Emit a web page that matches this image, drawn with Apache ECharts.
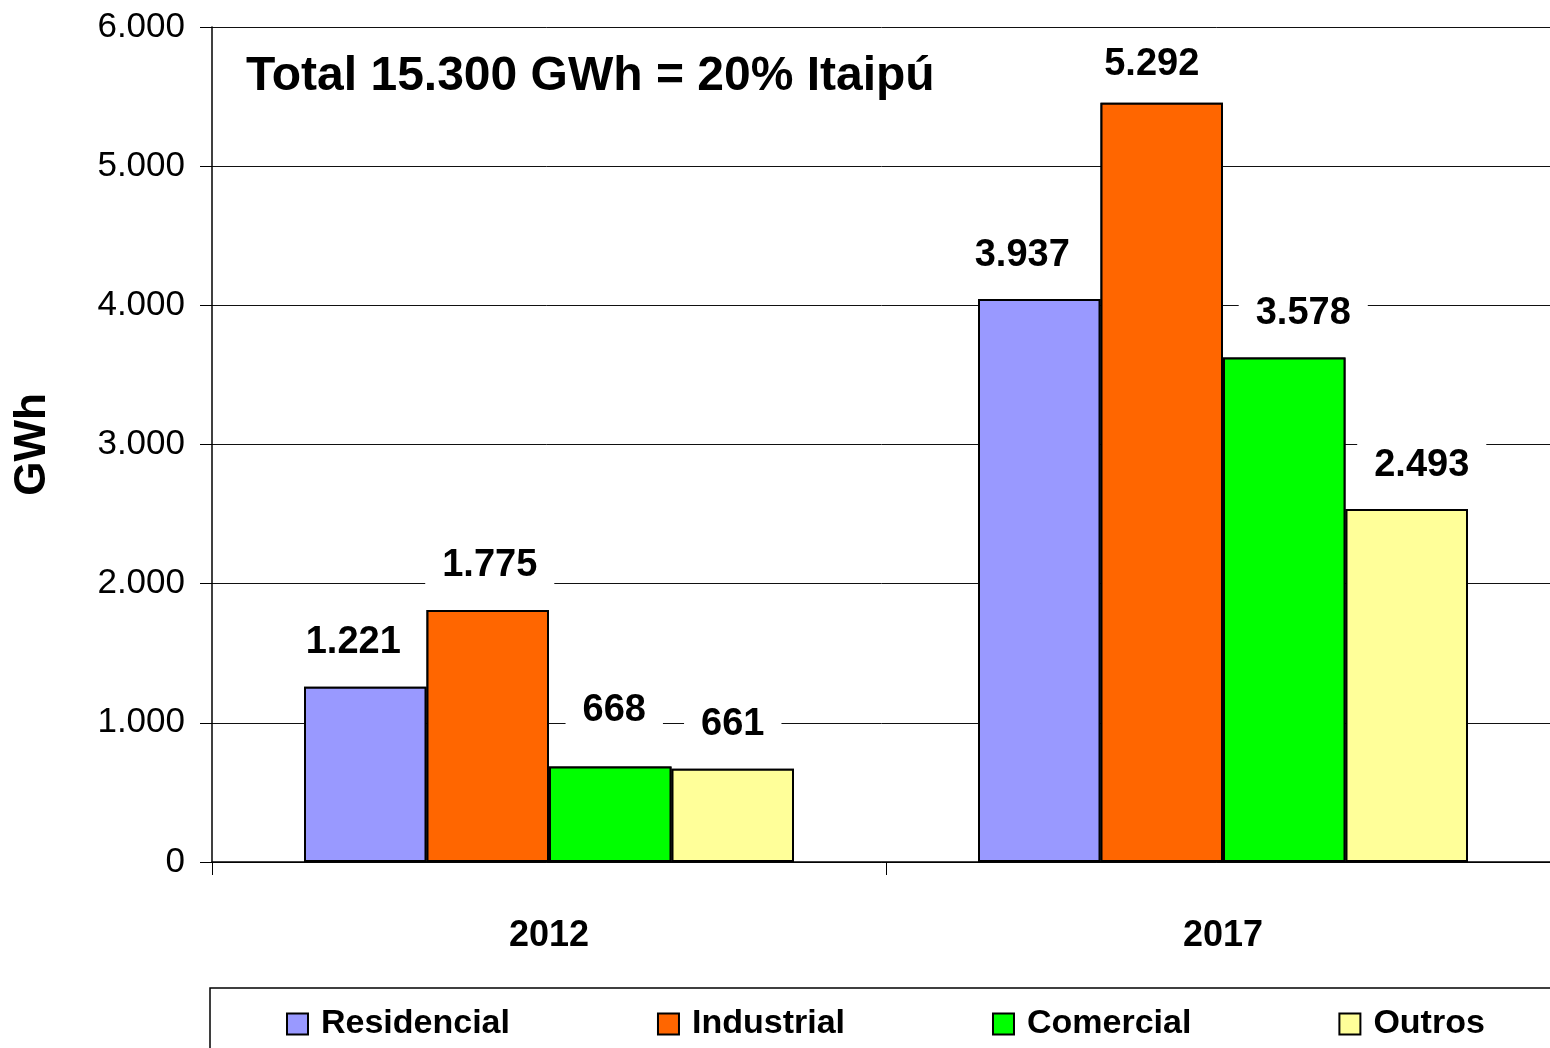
<!DOCTYPE html>
<html>
<head>
  <meta charset="utf-8">
  <title>Consumo GWh 2012 / 2017</title>
  <script src="https://cdn.jsdelivr.net/npm/echarts@6/dist/echarts.min.js"></script>
  <style>
    html, body { margin: 0; padding: 0; background: #fff; }
    #main { width: 1550px; height: 1048px; }
  </style>
</head>
<body>
  <div id="main"></div>
  <script>
  // anos
  var categories = ['2012', '2017'];
  var seriesNames = ['Residencial', 'Industrial', 'Comercial', 'Outros'];
  var seriesColors = ['#9999ff', '#ff6600', '#00ff00', '#ffff99'];

  // altura das barras (GWh)
  var residencial = [1260, 4045];
  var industrial = [1811, 5455];
  var comercial = [686, 3625];
  var outros = [670, 2536];

  // rótulos impressos sobre as barras
  var residencialLabels = ['1.221', '3.937'];
  var industrialLabels = ['1.775', '5.292'];
  var comercialLabels = ['668', '3.578'];
  var outrosLabels = ['661', '2.493'];

  var titleText = 'Total 15.300 GWh = 20% Itaipú';
  var axisName = 'GWh';

  var FONT = '"Liberation Sans", Arial, sans-serif';

  function fmtThousands(v) {
    return String(v).replace(/\B(?=(\d{3})+(?!\d))/g, '.');
  }

  var values = [residencial, industrial, comercial, outros];
  var labels = [residencialLabels, industrialLabels, comercialLabels, outrosLabels];

  // ajuste fino da posição de alguns rótulos (série, ano)
  function labelDistance(i, j) {
    if (i === 2 && j === 0) return 31; // 668
    if (i === 1 && j === 1) return 13; // 5.292
    return 19;
  }
  function labelShift(i, j) {
    var dx = [[-12, -17], [2, -10], [4, 19], [0, 15]];
    return dx[i][j];
  }

  var barCommon = { type: 'bar', barGap: '0%', barCategoryGap: '27.3%' };

  // barras com rótulo (fundo branco corta as linhas de grade)
  var series = seriesNames.map(function (name, i) {
    return Object.assign({}, barCommon, {
      name: name,
      z: 2,
      itemStyle: { color: seriesColors[i], borderColor: '#000', borderWidth: 2 },
      label: {
        show: true,
        position: 'top',
        fontFamily: FONT,
        fontWeight: 'bold',
        fontSize: 38,
        color: '#000',
        backgroundColor: '#fff',
        padding: [6, 17],
        formatter: function (p) { return labels[i][p.dataIndex]; }
      },
      emphasis: { disabled: true },
      data: values[i].map(function (v, j) {
        return { value: v, label: { distance: labelDistance(i, j), offset: [labelShift(i, j), 0] } };
      })
    });
  });

  // mesmas barras por cima, para que o fundo dos rótulos não cubra as barras vizinhas
  seriesNames.forEach(function (name, i) {
    series.push(Object.assign({}, barCommon, {
      name: name + ' ',
      xAxisIndex: 1,
      z: 5,
      silent: true,
      itemStyle: { color: seriesColors[i], borderColor: '#000', borderWidth: 2 },
      emphasis: { disabled: true },
      data: values[i]
    }));
  });

  var chart = echarts.init(document.getElementById('main'));
  chart.setOption({
    animation: false,
    backgroundColor: '#fff',
    grid: { left: 212, right: -10, top: 27, bottom: 186, outerBoundsMode: 'none', containLabel: false },
    legend: {
      left: 286,
      top: 1007,
      padding: 0,
      itemWidth: 21,
      itemHeight: 21,
      itemGap: 147,
      icon: 'rect',
      itemStyle: { borderColor: '#000', borderWidth: 2 },
      textStyle: { fontFamily: FONT, fontWeight: 'bold', fontSize: 34, color: '#000', padding: [0, 0, 0, 8] },
      selectedMode: false,
      data: seriesNames
    },
    xAxis: [
      {
        type: 'category',
        data: categories,
        axisLine: { lineStyle: { color: '#000', width: 1.5 } },
        axisTick: { show: true, length: 13, lineStyle: { color: '#000' } },
        axisLabel: { margin: 56, fontFamily: FONT, fontWeight: 'bold', fontSize: 36, color: '#000' }
      },
      {
        type: 'category',
        data: categories,
        show: false
      }
    ],
    yAxis: {
      type: 'value',
      min: 0,
      max: 6000,
      interval: 1000,
      name: axisName,
      nameLocation: 'middle',
      nameGap: 157,
      nameRotate: 90,
      nameTextStyle: { fontFamily: FONT, fontWeight: 'bold', fontSize: 44, color: '#000' },
      axisLine: { show: true, lineStyle: { color: '#000', width: 1.5 } },
      axisTick: { show: true, length: 12, lineStyle: { color: '#000' } },
      axisLabel: {
        margin: 27,
        fontFamily: FONT,
        fontSize: 35,
        color: '#000',
        formatter: function (v) { return fmtThousands(v); }
      },
      splitLine: { show: true, lineStyle: { color: '#111', width: 1 } }
    },
    graphic: [
      {
        type: 'text',
        left: 246,
        top: 53,
        style: { text: titleText, font: 'bold 48px ' + FONT, fill: '#000' },
        z: 10
      },
      {
        type: 'rect',
        shape: { x: 210, y: 988, width: 1400, height: 120 },
        style: { fill: 'none', stroke: '#000', lineWidth: 1.5 },
        z: 10
      }
    ],
    series: series
  });
  </script>
</body>
</html>
